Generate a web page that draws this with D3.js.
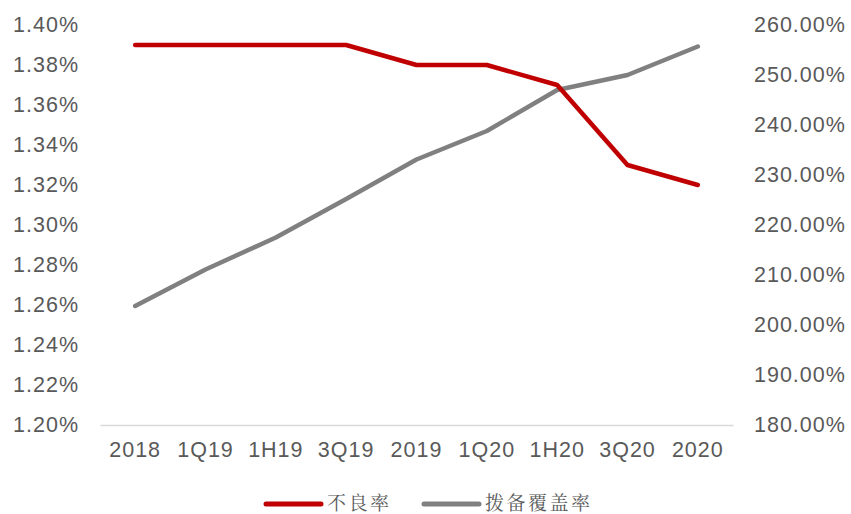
<!DOCTYPE html>
<html><head><meta charset="utf-8">
<script src="https://cdn.jsdelivr.net/npm/d3@7"></script>
<style>body{margin:0;background:#fff;} svg{display:block;}</style>
</head><body>
<svg id="c" width="851" height="514"></svg>
<script>
const categories = ["2018","1Q19","1H19","3Q19","2019","1Q20","1H20","3Q20","2020"];
const nplRatio = [1.39,1.39,1.39,1.39,1.38,1.38,1.37,1.33,1.32];
const coverage = [203.8,211.1,217.5,225.2,233.1,238.8,247.0,250.0,255.7];
const leftTicks = [1.20,1.22,1.24,1.26,1.28,1.30,1.32,1.34,1.36,1.38,1.40];
const rightTicks = [180,190,200,210,220,230,240,250,260];
const seriesNames = ["不良率","拨备覆盖率"];
const colors = ["#C00000","#808080"];

(function(){
const svg = d3.select("#c");
const pL = 100, pR = 733, pT = 25, pB = 425;
const x = d3.scaleBand().domain(categories).range([pL, pR]);
const yL = d3.scaleLinear().domain([1.20,1.40]).range([pB, pT]);
const yR = d3.scaleLinear().domain([180,260]).range([pB, pT]);
const font = "Liberation Sans, Arial, sans-serif";
const txt = "#595959";

const gL = svg.append("g").attr("transform",`translate(${pL},0)`)
  .call(d3.axisLeft(yL).tickValues(leftTicks).tickFormat(d=>d.toFixed(2)+"%").tickSize(0).tickPadding(21));
gL.select(".domain").remove();
gL.selectAll("text").attr("font-family",font).attr("font-size",21.5).attr("fill",txt).attr("letter-spacing","1px");

const gR = svg.append("g").attr("transform",`translate(${pR},0)`)
  .call(d3.axisRight(yR).tickValues(rightTicks).tickFormat(d=>d.toFixed(2)+"%").tickSize(0).tickPadding(21));
gR.select(".domain").remove();
gR.selectAll("text").attr("font-family",font).attr("font-size",21.5).attr("fill",txt).attr("letter-spacing","1px");

const gX = svg.append("g").attr("transform",`translate(0,${pB})`)
  .call(d3.axisBottom(x).tickSize(0).tickPadding(17));
gX.select(".domain").attr("stroke","#D9D9D9").attr("stroke-width",1.5);
gX.selectAll("text").attr("font-family",font).attr("font-size",21.5).attr("fill",txt).attr("letter-spacing","1px");

const cx = d => x(d) + x.bandwidth()/2;
const lineL = d3.line().x((d,i)=>cx(categories[i])).y(d=>yL(d));
const lineR = d3.line().x((d,i)=>cx(categories[i])).y(d=>yR(d));

svg.append("path").datum(coverage).attr("d",lineR).attr("fill","none")
  .attr("stroke",colors[1]).attr("stroke-width",4.5).attr("stroke-linecap","round").attr("stroke-linejoin","round");
svg.append("path").datum(nplRatio).attr("d",lineL).attr("fill","none")
  .attr("stroke",colors[0]).attr("stroke-width",4.5).attr("stroke-linecap","round").attr("stroke-linejoin","round");

const legX = [266, 424];
const legY = 504;
seriesNames.forEach((n,i)=>{
  svg.append("line").attr("x1",legX[i]).attr("x2",legX[i]+55).attr("y1",legY).attr("y2",legY)
    .attr("stroke",colors[i]).attr("stroke-width",5).attr("stroke-linecap","round");
  svg.append("text").attr("x",legX[i]+61).attr("y",legY+6).text(n)
    .attr("font-family","Noto Serif CJK SC, Noto Sans CJK SC, serif").attr("font-size",19)
    .attr("letter-spacing","2.5px").attr("fill",txt);
});
})();
</script>
</body></html>
